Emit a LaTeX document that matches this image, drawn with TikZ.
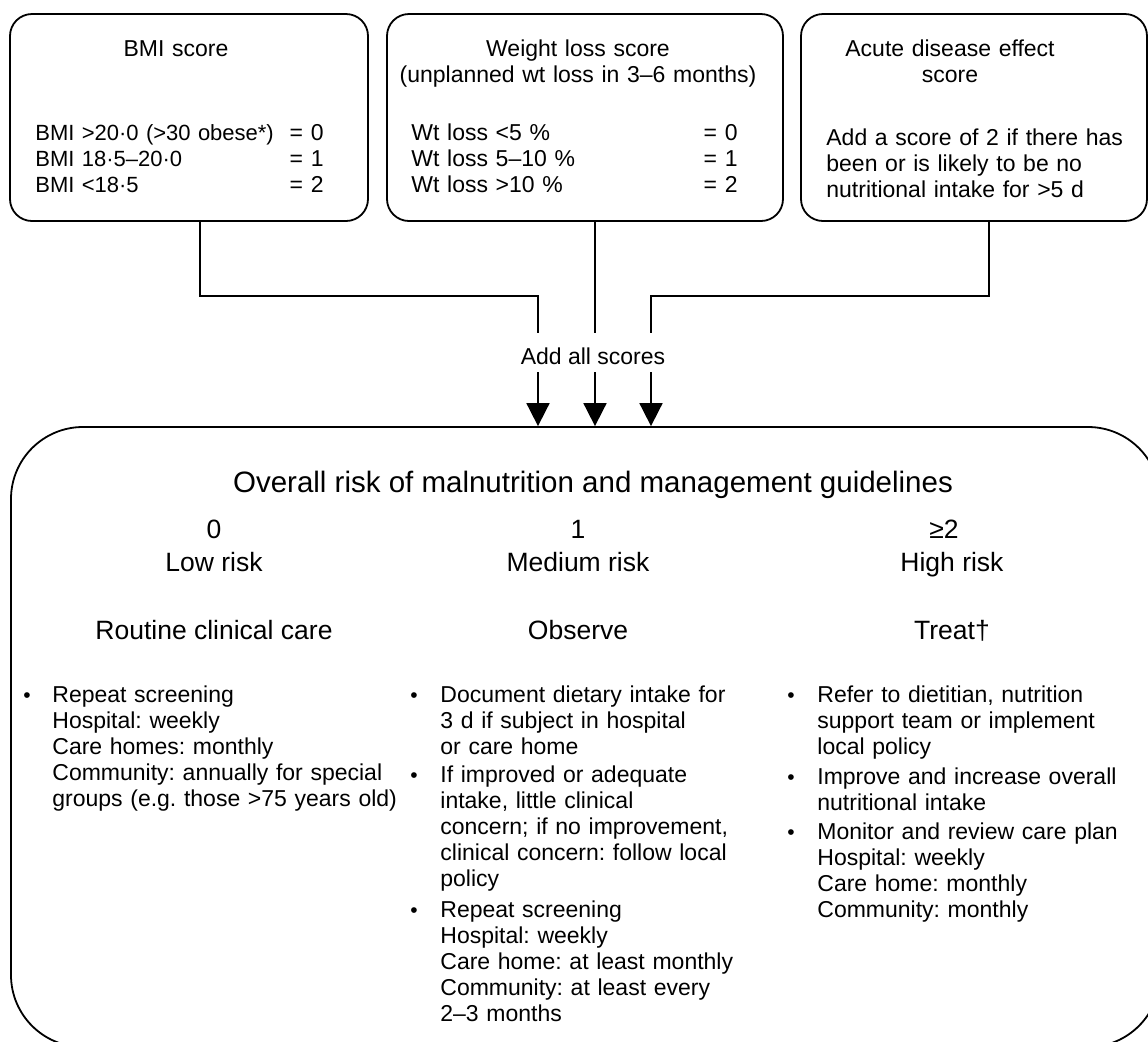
\documentclass[tikz,border=0pt]{standalone}
\usepackage{fontspec}
\setmainfont{Liberation Sans}
\usetikzlibrary{arrows.meta}
\frenchspacing
\begin{document}
\frenchspacing
\begin{tikzpicture}[x=0.5pt,y=-0.5pt,
  box/.style={draw,line width=0.9pt,rounded corners=11pt,inner sep=0pt},
  bigbox/.style={draw,line width=0.9pt,rounded corners=36pt,inner sep=0pt},
  txt/.style={font=\fontsize{11.5}{13}\selectfont,inner sep=0pt,align=left,text width=#1},
  txt/.default=200pt,
  rtxt/.style={font=\fontsize{11.5}{13}\selectfont,inner sep=0pt,align=right,text width=20pt,anchor=base east},
  ctxt/.style={font=\fontsize{11.5}{13}\selectfont,inner sep=0pt,align=center,text width=200pt,anchor=base},
  head/.style={font=\fontsize{13.25}{15}\selectfont,inner sep=0pt,anchor=base},
  conn/.style={line width=0.9pt},
  arr/.style={line width=0.9pt,-{Triangle[width=11.5pt,length=11.5pt]}},
  bul/.style={font=\fontsize{10.5}{13}\selectfont,inner sep=0pt,anchor=base}
]
\useasboundingbox (0,0) rectangle (1148,1041);
\clip (0,0) rectangle (1148,1041);

% top boxes
\node[box,minimum width=179pt,minimum height=103.5pt] (bmi) at (189,117.5) {};
\node[box,minimum width=198pt,minimum height=103.5pt] (wt) at (585,117.5) {};
\node[box,minimum width=173pt,minimum height=103.5pt] (acute) at (974,117.5) {};

% BMI box text
\node[ctxt] (bmit) at (176,56) {BMI score};
\node[txt,anchor=base west,font=\fontsize{11}{13}\selectfont] (bmil) at (35,140) {BMI >20·0 (>30 obese*)\\BMI 18·5–20·0\\BMI <18·5};
\node[rtxt] (bmir) at (324,140) {= 0\\= 1\\= 2};

% Weight box text
\node[ctxt] (wtt) at (578,56) {Weight loss score\\(unplanned wt loss in 3–6 months)};
\node[txt,anchor=base west] (wtl) at (411,140) {Wt loss <5 \%\\Wt loss 5–10 \%\\Wt loss >10 \%};
\node[rtxt] (wtr) at (738,140) {= 0\\= 1\\= 2};

% Acute box text
\node[ctxt] (act) at (950,56) {Acute disease effect\\score};
\node[txt,anchor=base west] (acl) at (826,145) {Add a score of 2 if there has\\been or is likely to be no\\nutritional intake for >5 d};

% connectors
\node[font=\fontsize{11.5}{13}\selectfont,inner sep=0pt,anchor=base] (add) at (593,364) {Add all scores};
\coordinate (p1) at (200,296);
\coordinate (p3) at (989,296);
\coordinate (e1) at (538,333);
\coordinate (e2) at (595,333);
\coordinate (e3) at (651,333);
\draw[conn] (bmi.south -| p1) |- (e1 |- p1) -- (e1);
\draw[conn] (wt.south -| e2) -- (e2);
\draw[conn] (acute.south -| p3) |- (e3 |- p3) -- (e3);

% big box
\node[bigbox,minimum width=574.5pt,minimum height=310pt] (big) at (585.5,737) {};
\coordinate (s1) at (538,372);
\coordinate (s2) at (595,372);
\coordinate (s3) at (651,372);
\draw[arr] (s1) -- (big.north -| s1);
\draw[arr] (s2) -- (big.north -| s2);
\draw[arr] (s3) -- (big.north -| s3);

\node[font=\fontsize{14.75}{17}\selectfont,inner sep=0pt,anchor=base] (ov) at (593,492) {Overall risk of malnutrition and management guidelines};

\node[head] (n0) at (214,538) {0};
\node[head] (n1) at (578,538) {1};
\node[head] (n2) at (944,538) {≥2};
\node[head] (r0) at (214,571) {Low risk};
\node[head] (r1) at (578,571) {Medium risk};
\node[head] (r2) at (952,571) {High risk};
\node[head] (g0) at (214,639) {Routine clinical care};
\node[head] (g1) at (578,639) {Observe};
\node[head] (g2) at (952,639) {Treat†};

% left column
\node[bul] (b01) at (27,702) {•};
\node[txt,anchor=base west] (t01) at (52,702) {Repeat screening\\Hospital: weekly\\Care homes: monthly\\Community: annually for special\\groups (e.g. those >75 years old)};

% middle column
\node[bul] (b11) at (414,702) {•};
\node[txt,anchor=base west] (t11) at (440,702) {Document dietary intake for\\3 d if subject in hospital\\or care home};
\node[bul] (b12) at (414,782) {•};
\node[txt,anchor=base west] (t12) at (440,782) {If improved or adequate\\intake, little clinical\\concern; if no improvement,\\clinical concern: follow local\\policy};
\node[bul] (b13) at (414,917) {•};
\node[txt,anchor=base west] (t13) at (440,917) {Repeat screening\\Hospital: weekly\\Care home: at least monthly\\Community: at least every\\2–3 months};

% right column
\node[bul] (b21) at (791,702) {•};
\node[txt,anchor=base west] (t21) at (817,702) {Refer to dietitian, nutrition\\support team or implement\\local policy};
\node[bul] (b22) at (791,784) {•};
\node[txt,anchor=base west] (t22) at (817,784) {Improve and increase overall\\nutritional intake};
\node[bul] (b23) at (791,839) {•};
\node[txt,anchor=base west] (t23) at (817,839) {Monitor and review care plan\\Hospital: weekly\\Care home: monthly\\Community: monthly};
\end{tikzpicture}
\end{document}
